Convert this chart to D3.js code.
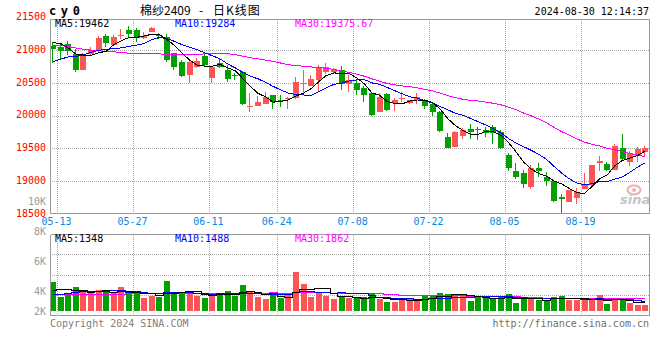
<!DOCTYPE html>
<html><head><meta charset="utf-8">
<script src="https://cdn.jsdelivr.net/npm/d3@7"></script>
<style>body{margin:0;background:#fff}svg{display:block}</style>
</head><body><svg id="c" width="660" height="360"></svg>
<script>
const dates = ["05-13","05-14","05-15","05-16","05-17","05-20","05-21","05-22","05-23","05-24","05-27","05-28","05-29","05-30","05-31",
"06-03","06-04","06-05","06-06","06-07","06-11","06-12","06-13","06-14","06-17","06-18","06-19","06-20","06-21","06-24","06-25","06-26","06-27","06-28",
"07-01","07-02","07-03","07-04","07-05","07-08","07-09","07-10","07-11","07-12","07-15","07-16","07-17","07-18","07-19","07-22","07-23","07-24","07-25","07-26","07-29","07-30","07-31",
"08-01","08-02","08-05","08-06","08-07","08-08","08-09","08-12","08-13","08-14","08-15","08-16","08-19","08-20","08-21","08-22","08-23","08-26","08-27","08-28","08-29","08-30"];
const open = [21063,21045,21090,20940,20700,20940,20985,21210,21075,21220,21300,21300,21180,21280,21225,21200,20950,20820,20615,20735,20905,20576,20795,20690,20625,20660,20135,20145,20175,20310,20240,20255,20262,20495,20455,20550,20670,20670,20690,20475,20500,20425,20340,20060,20325,20190,20268,20195,20240,20225,20185,20060,19680,19525,19690,19795,19790,19780,19830,19755,19400,19155,19130,18920,19210,19070,19000,18765,18690,18750,18885,18940,19275,19270,19170,19500,19300,19385,19440];
const high = [21115,21100,21140,21010,20950,21050,21210,21240,21230,21320,21360,21340,21280,21345,21265,21240,20960,20850,20870,20875,20940,20760,20870,20770,20650,20680,20340,20300,20365,20320,20310,20290,20590,20690,20620,20770,20800,20730,20755,20620,20540,20450,20360,20340,20340,20270,20365,20245,20340,20260,20200,20075,19740,19760,19805,19880,19820,19820,19855,19780,19435,19275,19170,19250,19275,19145,19010,18810,18870,18895,19120,19250,19390,19300,19565,19720,19460,19525,19535];
const low = [20795,20870,20930,20665,20695,20930,20975,21050,21070,21170,21180,21125,21175,21270,21175,20820,20690,20595,20500,20720,20760,20490,20730,20515,20550,20165,20060,20140,20170,20095,20135,20100,20255,20315,20445,20365,20640,20640,20390,20365,20310,20210,19995,20055,20070,20070,20210,20180,20185,20100,19990,19755,19500,19520,19640,19640,19630,19670,19575,19490,19160,19035,18905,18880,19070,18925,18680,18520,18685,18660,18880,18935,19160,19160,19165,19320,19240,19295,19380];
const close = [21015,20990,20990,20700,20920,20995,21180,21110,21195,21230,21240,21190,21210,21330,21215,20850,20745,20605,20820,20830,20770,20745,20740,20555,20610,20175,20150,20210,20285,20210,20230,20262,20515,20505,20555,20745,20745,20705,20475,20550,20390,20310,20010,20290,20085,20235,20275,20235,20285,20145,20060,19765,19510,19755,19780,19755,19775,19740,19730,19500,19195,19070,18957,19210,19150,19000,18705,18725,18865,18840,18940,19245,19305,19170,19535,19335,19435,19495,19505];
const ma5 = [21112,21100,21030,20940,20923,20919,20957,20981,21080,21142,21191,21193,21213,21240,21237,21159,21070,20949,20847,20770,20754,20754,20781,20728,20684,20565,20446,20340,20286,20206,20217,20239,20300,20344,20413,20516,20613,20651,20645,20644,20573,20486,20347,20310,20217,20186,20179,20224,20223,20235,20200,20098,19953,19847,19774,19713,19715,19761,19756,19700,19588,19447,19290,19186,19116,19077,19004,18958,18889,18827,18815,18923,19039,19100,19239,19318,19356,19394,19461];
const ma10 = [20822,20860,20895,20903,20925,20965,20995,21010,21020,21033,21055,21075,21097,21160,21190,21175,21132,21081,21044,21004,20957,20912,20865,20788,20727,20660,20600,20561,20507,20445,20391,20343,20320,20315,20310,20367,20426,20476,20495,20529,20545,20550,20499,20478,20431,20380,20333,20286,20267,20226,20193,20139,20089,20035,20005,19957,19907,19857,19802,19737,19651,19581,19526,19471,19408,19333,19226,19124,19038,18972,18946,18964,18999,18995,19033,19067,19140,19217,19281];
const ma30 = [21074,21066,21054,21032,21013,20997,20988,20979,20972,20962,20952,20947,20946,20944,20940,20937,20935,20934,20934,20937,20940,20944,20947,20944,20929,20906,20883,20865,20845,20827,20801,20777,20761,20754,20742,20734,20719,20706,20682,20659,20631,20601,20561,20527,20489,20469,20453,20441,20423,20400,20376,20344,20303,20276,20248,20234,20222,20206,20188,20164,20129,20090,20038,19995,19948,19890,19822,19756,19702,19645,19597,19561,19538,19500,19482,19452,19424,19399,19373];
const volume = [4280,2090,2480,3550,2920,2670,3070,2920,2580,3550,2580,2580,1940,2190,2090,4420,2820,2480,2920,2190,1940,2340,2670,2920,2190,3800,2820,2090,1750,2340,1850,2340,5740,3940,2090,2820,2190,1800,2040,1900,2040,2040,2480,1750,1310,1310,1610,1900,1610,2190,2340,2630,2480,2480,2340,1460,2040,2040,1900,2040,2480,1210,1940,1940,1610,1610,2090,2230,1610,1610,1610,1610,2340,1020,1940,1800,1210,880,880];
const vma5 = [3100,3150,3150,3100,3064,2742,2938,3026,2832,2958,2940,2842,2646,2568,2276,2644,2692,2800,2946,2966,2470,2374,2412,2412,2412,2784,2880,2764,2530,2560,2170,2074,2804,3242,3192,3386,3356,2568,2188,2150,1994,1964,2100,2042,1924,1778,1692,1576,1548,1724,1930,2134,2250,2424,2454,2278,2160,2072,1956,1896,2100,1934,1914,1922,1836,1662,1838,1896,1830,1830,1830,1734,1756,1638,1704,1742,1662,1370,1342];
const vma10 = [2500,2550,2650,2750,2850,2900,2950,2980,3000,3011,2841,2890,2836,2700,2617,2792,2767,2723,2757,2621,2557,2533,2606,2679,2689,2627,2627,2588,2471,2486,2477,2477,2784,2886,2876,2778,2715,2686,2715,2671,2690,2660,2334,2115,2037,1886,1828,1838,1795,1824,1854,1913,1913,1986,2089,2104,2147,2161,2190,2175,2189,2047,1993,1939,1866,1881,1886,1905,1876,1833,1746,1786,1826,1734,1767,1786,1698,1563,1490];
const vma30 = [2550,2550,2550,2550,2550,2550,2550,2550,2550,2550,2600,2600,2600,2600,2600,2600,2600,2600,2600,2600,2650,2650,2650,2650,2650,2650,2650,2650,2650,2706,2625,2633,2742,2755,2727,2732,2703,2666,2648,2593,2575,2557,2575,2560,2534,2430,2390,2371,2327,2327,2340,2350,2344,2329,2334,2256,2230,2228,2233,2223,2244,2207,2080,2013,1997,1957,1954,1968,1954,1944,1930,1915,1911,1886,1907,1924,1910,1876,1852];
const priceTicks = [21500,21000,20500,20000,19500,19000,18500];
const dateTicks = ["05-13","05-27","06-11","06-24","07-08","07-22","08-05","08-19"];
const volTicks = [10000,8000,6000,4000,2000];
const volTickLabels = ["10K","8K","6K","4K","2K"];
const maNames = ["MA5","MA10","MA30"];
const maLatest = ["19462","19284","19375.67"];
const volMaLatest = ["1348","1488","1862"];
const titleParts = ["棉纱2409", "-", "日K线图"];

const MONO = "'DejaVu Sans Mono', monospace";
const CJK = "'Noto Sans CJK SC', sans-serif";
const RED = "#ff5454", GREEN = "#00a000", GRID = "#a8a8a8", BORDER = "#999";
const maColors = ["#000000","#0000ff","#ff00ff"];
const svg = d3.select("#c");
svg.append("rect").attr("width",660).attr("height",360).attr("fill","#fff");

const L = 50, R = 650;
const pTop = 19, pBot = 213.5, vTop = 234.5, vBot = 315.5;
const x = d3.scalePoint().domain(dates).range([53, 645.3]);
const yP = d3.scaleLinear().domain([18500, 21500]).range([214.1, 17.2]);
const yV = d3.scaleLinear().domain([0, 11000]).range([311, 311 - 11000 / 146]);
const yVL = d3.scaleLinear().domain([2000, 10000]).range([321, 201]);
const gridOff = 4;

const g = svg.append("g").attr("shape-rendering","crispEdges");
g.selectAll(".hg").data(priceTicks.filter(v => v < 21500 && v > 18500)).join("line")
  .attr("x1", L).attr("x2", R).attr("y1", d => Math.round(yP(d)) + 0.5).attr("y2", d => Math.round(yP(d)) + 0.5)
  .attr("stroke", GRID).attr("stroke-dasharray", "1,1");
const vBand = d3.scaleLinear().domain([0, 4]).range([vBot - 0.5, vTop - 0.5]);
g.selectAll(".vg").data([1,2,3]).join("line")
  .attr("x1", L).attr("x2", R).attr("y1", d => Math.round(vBand(d)) + 0.5).attr("y2", d => Math.round(vBand(d)) + 0.5)
  .attr("stroke", GRID).attr("stroke-dasharray", "1,1");
dateTicks.forEach(d => {
  const gx = Math.round(x(d) + gridOff) + 0.5;
  g.append("line").attr("x1", gx).attr("x2", gx).attr("y1", pTop).attr("y2", pBot).attr("stroke", GRID).attr("stroke-dasharray","1,1");
  g.append("line").attr("x1", gx).attr("x2", gx).attr("y1", vTop).attr("y2", vBot).attr("stroke", GRID).attr("stroke-dasharray","1,1");
});

// watermark
svg.append("ellipse").attr("cx", 634).attr("cy", 190).attr("rx", 6.5).attr("ry", 4.5)
  .attr("fill","none").attr("stroke","#eeb0b0").attr("stroke-width",2);
svg.append("circle").attr("cx", 634).attr("cy", 190).attr("r", 2).attr("fill","#eeb0b0");
svg.append("text").attr("x", 620).attr("y", 204).attr("font-family","'DejaVu Sans', sans-serif")
  .attr("font-size", 13).attr("font-weight","bold").attr("font-style","italic").attr("fill","#c4c4c4").text("sina");

const idx = d3.range(dates.length);
const isUp = i => close[i] >= open[i];
g.selectAll(".wick").data(idx).join("rect")
  .attr("x", i => Math.round(x(dates[i])) - 1).attr("width", 1)
  .attr("y", i => Math.round(yP(high[i])))
  .attr("height", i => Math.max(1, Math.round(yP(low[i])) - Math.round(yP(high[i]))))
  .attr("fill", i => isUp(i) ? RED : GREEN);
g.selectAll(".body").data(idx).join("rect")
  .attr("x", i => Math.round(x(dates[i])) - 3).attr("width", 6)
  .attr("y", i => Math.round(yP(Math.max(open[i], close[i]))))
  .attr("height", i => Math.max(1, Math.round(yP(Math.min(open[i], close[i]))) - Math.round(yP(Math.max(open[i], close[i])))))
  .attr("fill", i => isUp(i) ? RED : GREEN);
g.selectAll(".vol").data(idx).join("rect")
  .attr("x", i => Math.round(x(dates[i])) - 3).attr("width", 6)
  .attr("y", i => Math.round(yV(volume[i])))
  .attr("height", i => yV(0) - Math.round(yV(volume[i])))
  .attr("fill", i => isUp(i) ? RED : GREEN);

const priceLine = d3.line().x((d, i) => x(dates[i])).y(d => yP(d));
[ma30, ma10, ma5].forEach((s, k) => {
  svg.append("path").attr("d", priceLine(s)).attr("fill","none")
    .attr("stroke", maColors[2 - k]).attr("stroke-width", 1).attr("shape-rendering","crispEdges");
});
const volLine = d3.line().x((d, i) => x(dates[i])).y(d => Math.round(yV(d)) + 0.5).curve(d3.curveStep);
[vma30, vma10, vma5].forEach((s, k) => {
  svg.append("path").attr("d", volLine(s)).attr("fill","none")
    .attr("stroke", maColors[2 - k]).attr("stroke-width", 1).attr("shape-rendering","crispEdges");
});

const b = svg.append("g").attr("shape-rendering","crispEdges").attr("stroke", BORDER).attr("fill","none");
b.append("path").attr("d", `M${L + 0.5},${pTop}V${pBot}H${R - 0.5}V${pTop}H${L + 0.5}`);
b.append("path").attr("d", `M${L + 0.5},${vTop}V${vBot}H${R - 0.5}V${vTop}H${L + 0.5}`);

const ay = svg.append("g").attr("transform", `translate(${L},-1)`)
  .call(d3.axisLeft(yP).tickValues(priceTicks).tickSize(0).tickPadding(4).tickFormat(d3.format("d")));
ay.select(".domain").remove();
ay.selectAll("text").attr("fill", "#ff0000").attr("font-family", MONO).attr("font-size", 10);

const ax = svg.append("g").attr("transform", `translate(${gridOff - 1},214)`)
  .call(d3.axisBottom(x).tickValues(dateTicks).tickSize(0).tickPadding(4.2));
ax.select(".domain").remove();
ax.selectAll("text").attr("fill", "#0a86d8").attr("font-family", MONO).attr("font-size", 10);

svg.selectAll(".vl").data(volTicks).join("text")
  .attr("x", 46).attr("y", d => Math.min(yVL(d), 311) + 3.6).attr("text-anchor","end")
  .attr("font-family", MONO).attr("font-size", 10).attr("fill", "#9a9a9a")
  .text((d, i) => volTickLabels[i]);

const legX = [55, 175, 295];
maNames.forEach((n, i) => {
  svg.append("text").attr("x", legX[i]).attr("y", 26.5).attr("font-family", MONO).attr("font-size", 10)
    .attr("fill", maColors[i]).text(n + ":" + maLatest[i]);
  svg.append("text").attr("x", legX[i]).attr("y", 242).attr("font-family", MONO).attr("font-size", 10)
    .attr("fill", maColors[i]).text(n + ":" + volMaLatest[i]);
});

// header
svg.append("text").attr("x", 49).attr("y", 15).attr("font-family", MONO).attr("font-size", 12)
  .attr("font-weight", "bold").attr("letter-spacing", "4.6px").attr("fill", "#000").text("cy0");
const titleX = [140, 201, 213], titleAnchor = ["start", "middle", "start"];
titleParts.forEach((t, i) => {
  svg.append("text").attr("x", titleX[i]).attr("y", 14.5).attr("font-family", CJK)
    .attr("font-size", 12).attr("text-anchor", titleAnchor[i]).attr("fill", "#000")
    .attr("letter-spacing", i === 2 ? "1px" : "0px").text(t);
});
svg.append("text").attr("x", 649).attr("y", 15).attr("text-anchor","end").attr("font-family", MONO)
  .attr("font-size", 10).attr("fill", "#000").text("2024-08-30 12:14:37");
svg.append("text").attr("x", 50).attr("y", 327).attr("font-family", MONO).attr("font-size", 10)
  .attr("fill", "#808080").text("Copyright 2024 SINA.COM");
svg.append("text").attr("x", 649).attr("y", 327).attr("text-anchor","end").attr("font-family", MONO)
  .attr("font-size", 10).attr("fill", "#707070").text("http://finance.sina.com.cn");
</script></body></html>
